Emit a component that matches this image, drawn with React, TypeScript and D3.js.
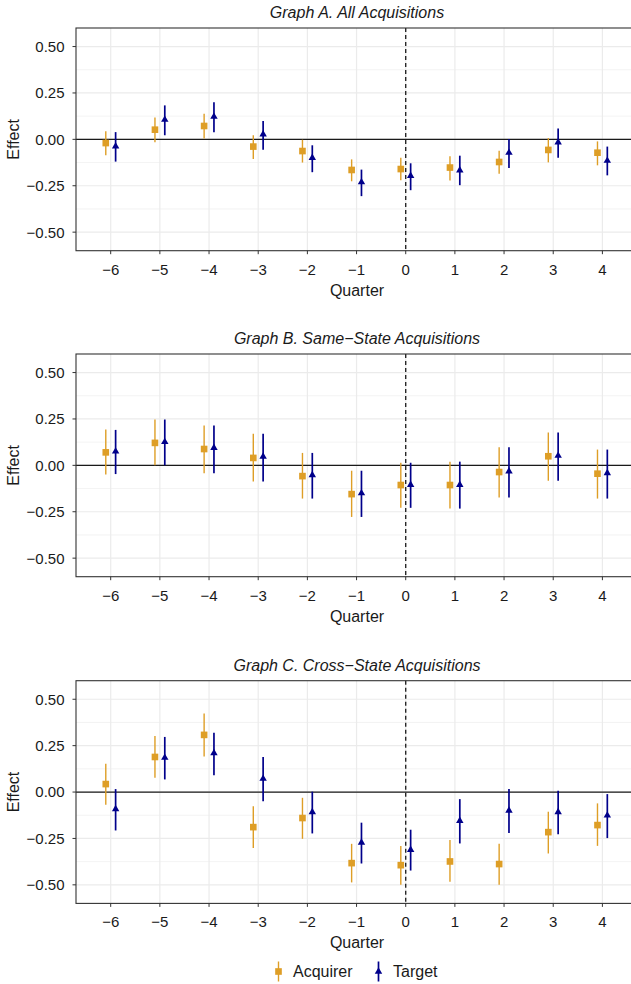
import React from "react";
import * as d3 from "d3";

const quarters = [-6, -5, -4, -3, -2, -1, 0, 1, 2, 3, 4];
const yTicks = [-0.5, -0.25, 0, 0.25, 0.5];
const yMinor = [-0.375, -0.125, 0.125, 0.375];

const titles = [
  "Graph A. All Acquisitions",
  "Graph B. Same\u2212State Acquisitions",
  "Graph C. Cross\u2212State Acquisitions",
];

// Graph A
const acqEstA = [-0.02, 0.052, 0.072, -0.039, -0.063, -0.165, -0.16, -0.152, -0.122, -0.057, -0.072];
const acqLoA = [-0.086, -0.016, 0.004, -0.106, -0.125, -0.226, -0.22, -0.222, -0.186, -0.124, -0.14];
const acqHiA = [0.043, 0.118, 0.138, 0.022, -0.002, -0.108, -0.099, -0.091, -0.061, 0.007, -0.011];
const tgtEstA = [-0.038, 0.106, 0.122, 0.027, -0.1, -0.231, -0.197, -0.167, -0.072, -0.016, -0.115];
const tgtLoA = [-0.12, 0.022, 0.038, -0.056, -0.177, -0.306, -0.274, -0.247, -0.154, -0.099, -0.194];
const tgtHiA = [0.039, 0.183, 0.2, 0.099, -0.032, -0.163, -0.129, -0.088, 0.002, 0.059, -0.039];

// Graph B
const acqEstB = [0.07, 0.121, 0.088, 0.04, -0.058, -0.155, -0.106, -0.106, -0.036, 0.049, -0.045];
const acqLoB = [-0.049, 0.0, -0.042, -0.087, -0.179, -0.278, -0.229, -0.233, -0.173, -0.083, -0.179];
const acqHiB = [0.193, 0.247, 0.215, 0.17, 0.067, -0.029, 0.014, 0.02, 0.097, 0.177, 0.085];
const tgtEstB = [0.075, 0.126, 0.094, 0.047, -0.052, -0.15, -0.105, -0.105, -0.032, 0.052, -0.042];
const tgtLoB = [-0.047, 0.0, -0.042, -0.087, -0.179, -0.278, -0.229, -0.233, -0.173, -0.083, -0.179];
const tgtHiB = [0.191, 0.247, 0.215, 0.17, 0.067, -0.029, 0.014, 0.02, 0.097, 0.177, 0.085];

// Graph C
const acqEstC = [0.043, 0.189, 0.308, -0.189, -0.14, -0.383, -0.394, -0.374, -0.388, -0.216, -0.178];
const acqLoC = [-0.068, 0.077, 0.192, -0.302, -0.252, -0.487, -0.5, -0.484, -0.5, -0.331, -0.29];
const acqHiC = [0.153, 0.302, 0.423, -0.076, -0.031, -0.279, -0.291, -0.259, -0.279, -0.106, -0.061];
const tgtEstC = [-0.092, 0.185, 0.21, 0.072, -0.108, -0.272, -0.311, -0.155, -0.1, -0.108, -0.126];
const tgtLoC = [-0.207, 0.068, 0.09, -0.05, -0.223, -0.385, -0.423, -0.277, -0.221, -0.228, -0.248];
const tgtHiC = [0.016, 0.297, 0.32, 0.189, 0.002, -0.165, -0.203, -0.038, 0.016, 0.007, -0.011];

const panels = [
  { acq: [acqEstA, acqLoA, acqHiA], tgt: [tgtEstA, tgtLoA, tgtHiA] },
  { acq: [acqEstB, acqLoB, acqHiB], tgt: [tgtEstB, tgtLoB, tgtHiB] },
  { acq: [acqEstC, acqLoC, acqHiC], tgt: [tgtEstC, tgtLoC, tgtHiC] },
];

const legendLabels = ["Acquirer", "Target"];

const ACQ = "#DE9E26";
const TGT = "#00008B";
const FONT = "'Liberation Sans', Arial, Helvetica, sans-serif";

const W = 631;
const H = 984;
const left = 76;
const right = 638;
const panelTops = [28, 354, 680.7];
const panelH = 222.7;
const dodge = 0.1;

const x = d3.scaleLinear().domain([-6, 4]).range([110.7, 602.4]);

const sqPath = d3.symbol(d3.symbolSquare, 44)() as string;
const triPath = d3.symbol(d3.symbolTriangle, 24)() as string;

function Panel({ idx }: { idx: number }) {
  const top = panelTops[idx];
  const y = d3.scaleLinear().domain([-0.6, 0.6]).range([top + panelH, top]);
  const p = panels[idx];
  const cx = 357;
  return (
    <g>
      <text x={cx} y={top - 9.7} textAnchor="middle" fontStyle="italic" fontSize={16} fill="#1a1a1a" fontFamily={FONT}>
        {titles[idx]}
      </text>
      <rect x={left} y={top} width={right - left} height={panelH} fill="white" />
      {yMinor.map((v) => (
        <line key={"mi" + v} x1={left} x2={right} y1={y(v)} y2={y(v)} stroke="#EBEBEB" strokeWidth={0.6} />
      ))}
      {yTicks.map((v) => (
        <line key={"ma" + v} x1={left} x2={right} y1={y(v)} y2={y(v)} stroke="#EBEBEB" strokeWidth={1.2} />
      ))}
      {quarters.map((q) => (
        <line key={"vx" + q} x1={x(q)} x2={x(q)} y1={top} y2={top + panelH} stroke="#EBEBEB" strokeWidth={1.2} />
      ))}
      <line x1={left} x2={right} y1={y(0)} y2={y(0)} stroke="#1a1a1a" strokeWidth={1.3} />
      <line x1={x(0)} x2={x(0)} y1={top} y2={top + panelH} stroke="#1a1a1a" strokeWidth={1.3} strokeDasharray="4,3" />
      {quarters.map((q, i) => (
        <g key={"a" + q}>
          <line x1={x(q - dodge)} x2={x(q - dodge)} y1={y(p.acq[1][i])} y2={y(p.acq[2][i])} stroke={ACQ} strokeWidth={1.4} />
          <path d={sqPath} transform={`translate(${x(q - dodge)},${y(p.acq[0][i])})`} fill={ACQ} />
        </g>
      ))}
      {quarters.map((q, i) => (
        <g key={"t" + q}>
          <line x1={x(q + dodge)} x2={x(q + dodge)} y1={y(p.tgt[1][i])} y2={y(p.tgt[2][i])} stroke={TGT} strokeWidth={1.7} />
          <path d={triPath} transform={`translate(${x(q + dodge)},${y(p.tgt[0][i])})`} fill={TGT} />
        </g>
      ))}
      <rect x={left} y={top} width={right - left} height={panelH} fill="none" stroke="#333333" strokeWidth={1.1} />
      {yTicks.map((v) => (
        <g key={"yt" + v}>
          <line x1={left - 3.5} x2={left} y1={y(v)} y2={y(v)} stroke="#333333" strokeWidth={1} />
          <text x={left - 11.5} y={y(v)} dy="0.36em" textAnchor="end" fontSize={15} fill="#1a1a1a" fontFamily={FONT}>
            {d3.format(".2f")(v).replace("-", "\u2212")}
          </text>
        </g>
      ))}
      {quarters.map((q) => (
        <g key={"xt" + q}>
          <line x1={x(q)} x2={x(q)} y1={top + panelH} y2={top + panelH + 3.5} stroke="#333333" strokeWidth={1} />
          <text x={x(q)} y={top + panelH + 24} textAnchor="middle" fontSize={15} fill="#1a1a1a" fontFamily={FONT}>
            {String(q).replace("-", "\u2212")}
          </text>
        </g>
      ))}
      <text x={cx} y={top + panelH + 45} textAnchor="middle" fontSize={16} fill="#1a1a1a" fontFamily={FONT}>
        Quarter
      </text>
      <text
        transform={`translate(19,${top + panelH / 2}) rotate(-90)`}
        textAnchor="middle"
        fontSize={16}
        fill="#1a1a1a"
        fontFamily={FONT}
      >
        Effect
      </text>
    </g>
  );
}

export default function App() {
  const ly = 971.5;
  return (
    <svg width={W} height={H} style={{ position: "absolute", left: 0, top: 0, background: "white" }}>
      <rect x={0} y={0} width={W} height={H} fill="white" />
      {[0, 1, 2].map((i) => (
        <Panel key={i} idx={i} />
      ))}
      <g>
        <line x1={278.5} x2={278.5} y1={ly - 10} y2={ly + 10} stroke={ACQ} strokeWidth={1.4} />
        <path d={sqPath} transform={`translate(278.5,${ly})`} fill={ACQ} />
        <text x={293} y={ly} dy="0.36em" fontSize={16} fill="#1a1a1a" fontFamily={FONT}>
          {legendLabels[0]}
        </text>
        <line x1={378.5} x2={378.5} y1={ly - 10} y2={ly + 10} stroke={TGT} strokeWidth={1.7} />
        <path d={triPath} transform={`translate(378.5,${ly})`} fill={TGT} />
        <text x={393} y={ly} dy="0.36em" fontSize={16} fill="#1a1a1a" fontFamily={FONT}>
          {legendLabels[1]}
        </text>
      </g>
    </svg>
  );
}
